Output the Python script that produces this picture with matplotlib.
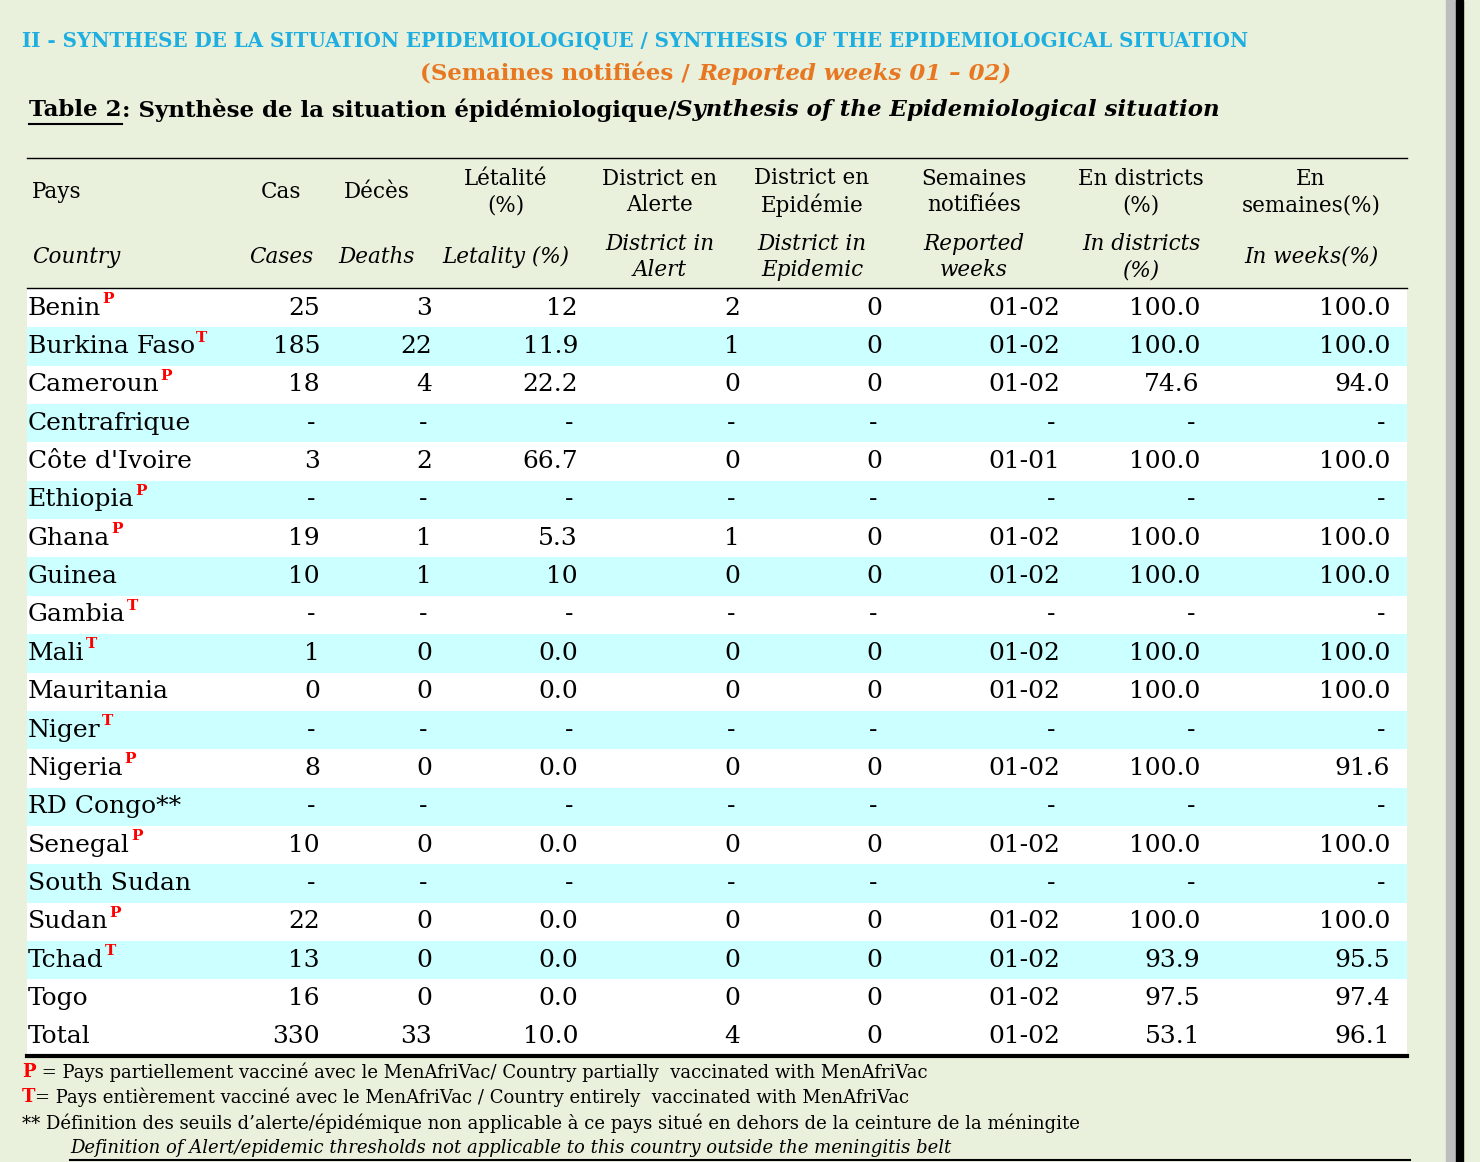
import matplotlib
matplotlib.use("Agg")
import matplotlib.pyplot as plt
from matplotlib.patches import Rectangle

plt.rcParams['font.family'] = 'DejaVu Serif'

# data
countries = ["Benin", "Burkina Faso", "Cameroun", "Centrafrique", "Côte d'Ivoire", "Ethiopia",
             "Ghana", "Guinea", "Gambia", "Mali", "Mauritania", "Niger", "Nigeria", "RD Congo**",
             "Senegal", "South Sudan", "Sudan", "Tchad", "Togo", "Total"]
marks = ["P", "T", "P", "", "", "P", "P", "", "T", "T", "", "T", "P", "", "P", "", "P", "T", "", ""]
cases = ["25", "185", "18", "-", "3", "-", "19", "10", "-", "1", "0", "-", "8", "-", "10", "-", "22", "13", "16", "330"]
deaths = ["3", "22", "4", "-", "2", "-", "1", "1", "-", "0", "0", "-", "0", "-", "0", "-", "0", "0", "0", "33"]
letality = ["12", "11.9", "22.2", "-", "66.7", "-", "5.3", "10", "-", "0.0", "0.0", "-", "0.0", "-", "0.0", "-", "0.0", "0.0", "0.0", "10.0"]
alert = ["2", "1", "0", "-", "0", "-", "1", "0", "-", "0", "0", "-", "0", "-", "0", "-", "0", "0", "0", "4"]
epidemic = ["0", "0", "0", "-", "0", "-", "0", "0", "-", "0", "0", "-", "0", "-", "0", "-", "0", "0", "0", "0"]
weeks = ["01-02", "01-02", "01-02", "-", "01-01", "-", "01-02", "01-02", "-", "01-02", "01-02", "-", "01-02", "-",
         "01-02", "-", "01-02", "01-02", "01-02", "01-02"]
in_districts = ["100.0", "100.0", "74.6", "-", "100.0", "-", "100.0", "100.0", "-", "100.0", "100.0", "-", "100.0", "-",
                "100.0", "-", "100.0", "93.9", "97.5", "53.1"]
in_weeks = ["100.0", "100.0", "94.0", "-", "100.0", "-", "100.0", "100.0", "-", "100.0", "100.0", "-", "91.6", "-",
            "100.0", "-", "100.0", "95.5", "97.4", "96.1"]

BG = "#e9f0dc"
CYAN = "#ccffff"
W, H = 1480, 1162
fig = plt.figure(figsize=(W / 100, H / 100), dpi=100, facecolor=BG)
ax = fig.add_axes([0, 0, 1, 1])
ax.set_xlim(0, W)
ax.set_ylim(H, 0)
ax.axis("off")
fig.canvas.draw()
rend = fig.canvas.get_renderer()


def pieces(x, y, parts, size, ha="left"):
    # parts: (text, dict of kwargs); laid out one after another
    objs = []
    for txt, kw in parts:
        t = ax.text(x, y, txt, fontsize=size, va="center", ha="left", **kw)
        bb = t.get_window_extent(rend)
        objs.append((t, bb))
        x += bb.width
    if ha == "center":
        total = sum(b.width for _, b in objs)
        shift = total / 2
        for t, b in objs:
            t.set_x(t.get_position()[0] - shift)
    return objs


# side bars
ax.add_patch(Rectangle((1446, 0), 10, H, color="#bdbdbd"))
ax.add_patch(Rectangle((1456, 0), 7, H, color="black"))

# titles
ax.text(22, 41, "II - SYNTHESE DE LA SITUATION EPIDEMIOLOGIQUE / SYNTHESIS OF THE EPIDEMIOLOGICAL SITUATION",
        fontsize=14.3, color="#1eaee0", fontweight="bold", va="center")
orange = "#e87722"
pieces(716, 74, [("(Semaines notifiées / ", dict(color=orange, fontweight="bold")),
                 ("Reported weeks 01 – 02)", dict(color=orange, fontweight="bold", style="italic"))], 16.5, ha="center")
objs = pieces(29, 110, [("Table 2", dict(fontweight="bold")),
                        (": Synthèse de la situation épidémiologique/", dict(fontweight="bold")),
                        ("Synthesis of the Epidemiological situation", dict(fontweight="bold", style="italic"))], 16.5)
ax.plot([29, 29 + objs[0][1].width], [124, 124], color="black", lw=1.5)

# rows
top, rh = 289, 38.35
for i in range(len(countries)):
    y0 = top + i * rh
    if i % 2 == 1 and i != len(countries) - 1:
        ax.add_patch(Rectangle((27, y0), 1380, rh, color=CYAN, lw=0))
    else:
        ax.add_patch(Rectangle((27, y0), 1380, rh, color="white", lw=0))

# header
hdr = dict(fontsize=15.5, va="center", ha="center", linespacing=1.25)
ax.text(32, 192, "Pays", fontsize=15.5, va="center")
ax.text(32, 257, "Country", fontsize=15.5, va="center", style="italic")
heads = [(281, "Cas", "Cases"), (377, "Décès", "Deaths"), (506, "Létalité\n(%)", "Letality (%)"),
         (660, "District en\nAlerte", "District in\nAlert"), (812, "District en\nEpidémie", "District in\nEpidemic"),
         (974, "Semaines\nnotifiées", "Reported\nweeks"), (1141, "En districts\n(%)", "In districts\n(%)"),
         (1311, "En\nsemaines(%)", "In weeks(%)")]
for x, fr, en in heads:
    ax.text(x, 192, fr, **hdr)
    ax.text(x, 257, en, style="italic", **hdr)

ax.plot([27, 1407], [158, 158], color="black", lw=1)
ax.plot([27, 1407], [288, 288], color="black", lw=1)
ax.plot([27, 1407], [1056, 1056], color="black", lw=3)
ax.plot([70, 1410], [1160, 1160], color="black", lw=1.5)

cols = [(320, cases), (432, deaths), (578, letality), (740, alert), (882, epidemic),
        (1060, weeks), (1200, in_districts), (1390, in_weeks)]
fs = 18
for i, name in enumerate(countries):
    yc = top + i * rh + rh / 2
    t = ax.text(28, yc, name, fontsize=fs, va="center")
    if marks[i]:
        bb = t.get_window_extent(rend)
        ax.text(28 + bb.width + 1, yc - 9, marks[i], fontsize=11, color="red", fontweight="bold", va="center")
    for x, vals in cols:
        v = vals[i]
        ax.text(x - (5 if v == "-" else 0), yc, v, fontsize=fs, va="center", ha="right")

# footer
fn = 13
pieces(22, 1072, [("P", dict(color="red", fontweight="bold")),
                  (" = Pays partiellement vacciné avec le MenAfriVac/ Country partially  vaccinated with MenAfriVac", {})], fn)
pieces(22, 1097, [("T", dict(color="red", fontweight="bold")),
                  ("= Pays entièrement vacciné avec le MenAfriVac / Country entirely  vaccinated with MenAfriVac", {})], fn)
ax.text(22, 1123, "** Définition des seuils d’alerte/épidémique non applicable à ce pays situé en dehors de la ceinture de la méningite",
        fontsize=fn, va="center")
ax.text(70, 1148, "Definition of Alert/epidemic thresholds not applicable to this country outside the meningitis belt",
        fontsize=fn, va="center", style="italic")

fig.savefig("out.png", dpi=100, facecolor=BG)
